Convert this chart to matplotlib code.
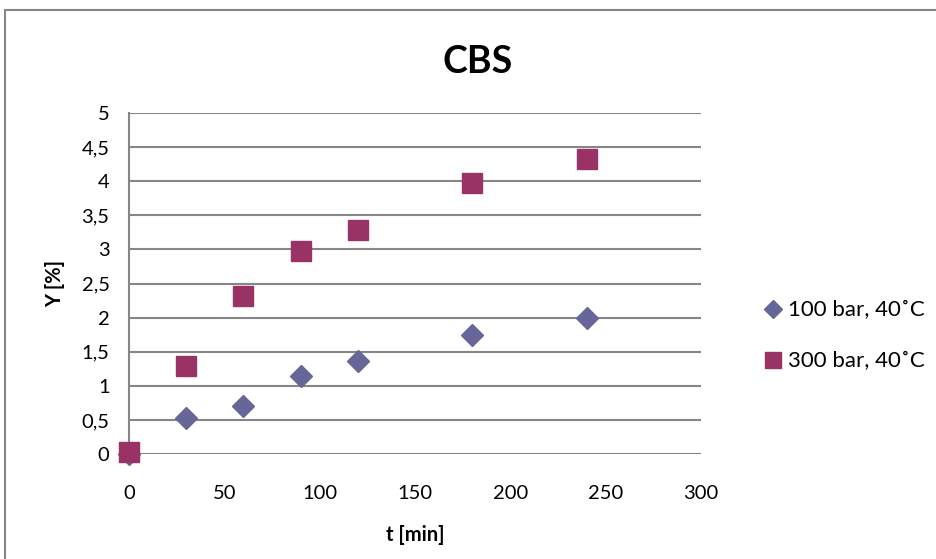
import matplotlib

matplotlib.use("Agg")
import matplotlib.pyplot as plt  # noqa: E402
from matplotlib.patches import Rectangle  # noqa: E402

plt.rcParams["font.family"] = ["Lato", "DejaVu Sans"]

t_min = [0, 30, 60, 90, 120, 180, 240]
y_100bar = [0.0, 0.53, 0.71, 1.15, 1.36, 1.74, 2.0]
y_300bar = [0.03, 1.29, 2.32, 2.97, 3.29, 3.98, 4.32]
series_labels = ["100 bar, 40˚C", "300 bar, 40˚C"]
y_ticks = [0, 0.5, 1, 1.5, 2, 2.5, 3, 3.5, 4, 4.5, 5]
x_ticks = [0, 50, 100, 150, 200, 250, 300]

GRID = "#868686"
W, H = 936, 559

fig = plt.figure(figsize=(W / 100, H / 100), dpi=100)
# chart-area border: only left and top edges fall inside the image
fig.patches.append(Rectangle((5 / W, -0.05), 1.1, 1 - 10 / H + 0.05,
                             transform=fig.transFigure, fill=False,
                             edgecolor=GRID, linewidth=1.5))
ax = fig.add_axes([129 / W, 1 - 454 / H, 572 / W, 341 / H])

ax.plot(t_min, y_100bar, linestyle="none", marker="D", markersize=11,
        color="#666699", label=series_labels[0], zorder=3, clip_on=False)
ax.plot(t_min, y_300bar, linestyle="none", marker="s", markersize=14.5,
        color="#993366", label=series_labels[1], zorder=3, clip_on=False)

ax.set_xlim(0, 300)
ax.set_ylim(0, 5)
ax.set_yticks(y_ticks)
ax.set_yticklabels([f"{v:g}".replace(".", ",") for v in y_ticks], fontsize=14.5)
ax.set_xticks(x_ticks)
ax.set_xticklabels([str(v) for v in x_ticks], fontsize=14.5)
ax.tick_params(axis="y", length=0, pad=14)
ax.tick_params(axis="x", length=0, pad=22)
ax.grid(axis="y", color=GRID, linewidth=1.5)
ax.set_axisbelow(True)
for side in ("top", "right", "bottom"):
    ax.spines[side].set_visible(False)
ax.spines["left"].set_color(GRID)
ax.spines["left"].set_linewidth(1.5)

ax.set_xlabel("t [min]", fontsize=14.5, fontweight="bold", labelpad=17)
ax.set_ylabel("Y [%]", fontsize=14.5, fontweight="bold", labelpad=12)
fig.text(478 / W, 1 - 62 / H, "CBS", ha="center", va="center", fontsize=27,
         fontweight="bold")

fig.legend(loc="center left", bbox_to_anchor=(762 / W, 1 - 336 / H),
           frameon=False, fontsize=16, handletextpad=0.15, borderpad=0,
           borderaxespad=0, labelspacing=1.4, handlelength=1.0,
           markerscale=0.8)

fig.savefig("out.png", dpi=100)
